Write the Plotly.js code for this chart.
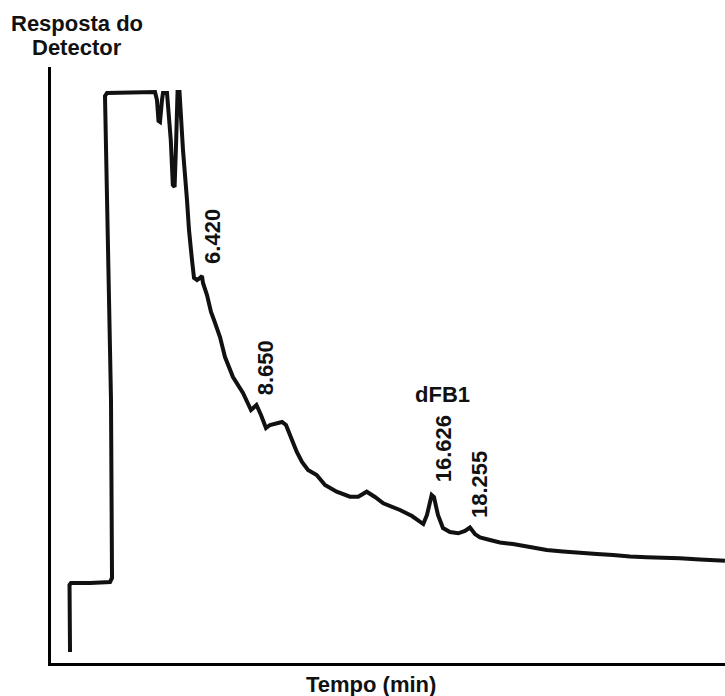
<!DOCTYPE html>
<html>
<head>
<meta charset="utf-8">
<script src="https://cdn.plot.ly/plotly-3.0.1.min.js"></script>
<style>html,body{margin:0;padding:0;background:#fff;}#chart{width:725px;height:696px;}</style>
</head>
<body>
<div id="chart"></div>
<script>
// Retention time (min) and detector response (arbitrary units, 0-100)
const timeMin = [0.523,0.501,0.567,1.410,2.296,2.385,2.340,2.074,2.163,4.291,4.379,4.446,4.512,4.601,4.645,4.823,4.990,5.080,5.160,5.230,5.290,5.330,5.377,5.532,5.709,5.798,5.931,6.020,6.153,6.286,6.374,6.419,6.596,6.773,6.906,7.172,7.394,7.748,8.191,8.546,8.790,8.989,9.211,9.388,9.920,10.098,10.275,10.572,10.807,11.073,11.458,11.826,12.345,12.934,13.302,13.675,14.043,14.411,15.151,15.683,16.184,16.348,16.556,16.658,16.835,17.057,17.367,17.735,18.032,18.254,18.475,18.697,19.141,19.584,20.160,20.914,21.654,22.376,23.130,23.883,24.592,25.346,26.086,26.809,27.562,28.449,29.557];
const response = [1.85,13.09,13.42,13.42,13.59,14.26,44.13,95.13,95.64,95.81,94.46,90.94,90.77,94.46,95.64,95.64,87.75,80.20,79.87,87.75,95.81,95.81,95.81,86.07,77.68,72.65,67.62,64.60,64.26,64.60,64.93,63.76,61.74,58.89,57.55,54.70,51.34,47.99,45.30,42.45,43.29,41.61,39.43,39.93,40.44,39.93,38.26,35.45,33.72,32.38,31.54,29.87,28.74,27.90,27.90,28.74,27.85,26.80,25.67,24.66,23.32,24.83,28.19,27.85,24.83,22.65,21.98,21.76,22.15,22.73,21.64,21.06,20.64,20.22,19.97,19.46,18.96,18.71,18.51,18.29,18.12,17.87,17.73,17.65,17.57,17.37,17.16];

// Peak labels
const peakLabels = ["6.420", "8.650", "16.626", "18.255"];
const peakTimes = [6.420, 8.650, 16.626, 18.255];
const peakLabelY = [71.5, 49.5, 35.9, 29.95];
const compoundLabel = "dFB1";
const compoundTime = 16.626;
const compoundY = 45.1;

const yTitleLines = ["Resposta do", "Detector"];
const xTitle = "Tempo (min)";

const fontFam = "Arial, 'Liberation Sans', sans-serif";
const lblFont = {family: fontFam, size: 22, color: "#111", weight: "bold"};

const annotations = [];
const shifts = [10, 13, 10, 9.5];
peakLabels.forEach((t, i) => {
  annotations.push({
    x: peakTimes[i], y: peakLabelY[i], xref: "x", yref: "y",
    text: t, showarrow: false, textangle: -90,
    xanchor: "center", yanchor: "middle", xshift: shifts[i],
    font: lblFont
  });
});
annotations.push({
  x: compoundTime, y: compoundY, xref: "x", yref: "y",
  text: compoundLabel, showarrow: false, xanchor: "center", yanchor: "middle",
  xshift: 9, font: lblFont
});
annotations.push({
  x: 0.0393, y: 1.0738, xref: "paper", yref: "paper", text: yTitleLines[0],
  showarrow: false, xanchor: "center", yanchor: "middle", font: lblFont
});
annotations.push({
  x: 0.0393, y: 1.0319, xref: "paper", yref: "paper", text: yTitleLines[1],
  showarrow: false, xanchor: "center", yanchor: "middle", font: lblFont
});
annotations.push({
  x: 0.4748, y: -0.0369, xref: "paper", yref: "paper", text: xTitle,
  showarrow: false, xanchor: "center", yanchor: "middle", font: lblFont
});

const trace = {
  x: timeMin, y: response, type: "scatter", mode: "lines",
  line: {color: "#111", width: 4, simplify: false},
  hoverinfo: "skip"
};

const axisCommon = {
  showline: true, linecolor: "#000", linewidth: 3,
  showgrid: false, zeroline: false, showticklabels: false, ticks: "",
  fixedrange: true
};

const layout = {
  width: 725, height: 696,
  margin: {l: 51, r: 0, t: 67, b: 33, pad: 0},
  paper_bgcolor: "#fff", plot_bgcolor: "#fff",
  showlegend: false,
  xaxis: Object.assign({range: [-0.32, 29.56]}, axisCommon),
  yaxis: Object.assign({range: [0, 100]}, axisCommon),
  annotations: annotations
};

Plotly.newPlot("chart", [trace], layout, {displayModeBar: false, staticPlot: true});
</script>
</body>
</html>
